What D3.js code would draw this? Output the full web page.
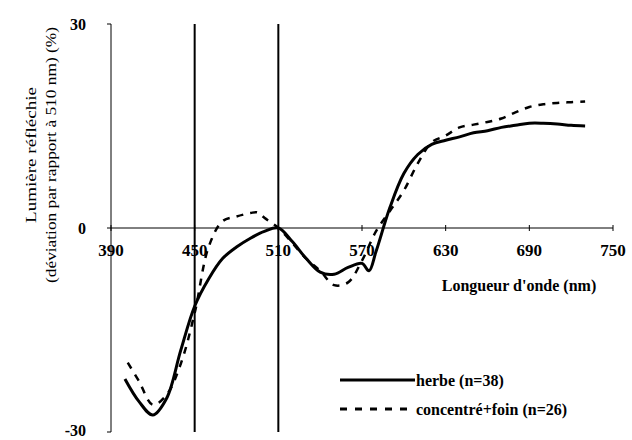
<!DOCTYPE html>
<html>
<head>
<meta charset="utf-8">
<script src="https://cdn.jsdelivr.net/npm/d3@7"></script>
<style>
  body { margin: 0; background: #fff; }
  text { font-family: "Liberation Serif", "DejaVu Serif", serif; fill: #000; }
</style>
</head>
<body>
<div id="viz"></div>
<script>
// wavelengths (nm) and deviation relative to 510 nm (%)
const herbeNm = [400, 410, 420, 430, 440, 450, 460, 470, 480, 490, 500, 510, 520, 530, 540, 550, 560, 570, 575, 580, 590, 600, 610, 620, 630, 640, 650, 660, 670, 680, 690, 700, 710, 720, 730];
const herbeVal = [-22.2, -25.5, -27.5, -25, -18, -11.5, -7.5, -4.5, -2.8, -1.5, -0.5, 0, -2, -4.5, -6.5, -6.8, -5.8, -5.2, -6.3, -3.5, 3, 8, 10.8, 12.3, 12.9, 13.4, 14, 14.3, 14.8, 15.1, 15.4, 15.4, 15.3, 15.1, 15.0];

const concNm = [402, 410, 420, 430, 440, 450, 460, 470, 480, 490, 495, 500, 510, 520, 530, 540, 550, 560, 570, 580, 590, 600, 610, 620, 630, 640, 650, 660, 670, 680, 690, 700, 710, 720, 730];
const concVal = [-19.8, -22.5, -26, -24.5, -20, -12.5, -2.8, 1.0, 1.7, 2.2, 2.3, 1.5, 0, -2.2, -4.5, -6.3, -8.4, -8.0, -4.8, -0.5, 2.5, 5.5, 9.5, 12.6, 13.6, 14.8, 15.2, 15.6, 16.1, 17, 17.8, 18.2, 18.4, 18.5, 18.6];

const xTicks = [390, 450, 510, 570, 630, 690, 750];
const yTicks = [-30, 0, 30];
const refLines = [450, 510];
const seriesNames = ["herbe (n=38)", "concentré+foin (n=26)"];

const width = 632, height = 440;
const svg = d3.select("#viz").append("svg")
    .attr("width", width)
    .attr("height", height);

const x = d3.scaleLinear().domain([390, 750]).range([111, 613]);
const y = d3.scaleLinear().domain([-30, 30]).range([432, 24]);

// y axis
svg.append("line")
    .attr("x1", x(390)).attr("x2", x(390))
    .attr("y1", y(30)).attr("y2", y(-30))
    .attr("stroke", "#000").attr("stroke-width", 1);
svg.selectAll(".ytick").data(yTicks).enter().append("line")
    .attr("x1", x(390) - 4).attr("x2", x(390))
    .attr("y1", d => y(d)).attr("y2", d => y(d))
    .attr("stroke", "#000");
svg.selectAll(".ylab").data(yTicks).enter().append("text")
    .attr("x", 86).attr("y", d => Math.min(y(d) + 6, 436))
    .attr("text-anchor", "end")
    .style("font-size", "16px").style("font-weight", "bold")
    .text(d => d);

// x axis on zero line
svg.append("line")
    .attr("x1", x(390)).attr("x2", x(750))
    .attr("y1", y(0)).attr("y2", y(0))
    .attr("stroke", "#000").attr("stroke-width", 1);
svg.selectAll(".xtick").data(xTicks).enter().append("line")
    .attr("x1", d => x(d)).attr("x2", d => x(d))
    .attr("y1", y(0) - 3).attr("y2", y(0) + 3)
    .attr("stroke", "#000");
svg.selectAll(".xlab").data(xTicks).enter().append("text")
    .attr("x", d => x(d)).attr("y", y(0) + 28)
    .attr("text-anchor", "middle")
    .style("font-size", "17px").style("font-weight", "bold")
    .text(d => d);

// vertical reference lines
svg.selectAll(".ref").data(refLines).enter().append("line")
    .attr("x1", d => x(d)).attr("x2", d => x(d))
    .attr("y1", y(30)).attr("y2", y(-30))
    .attr("stroke", "#000").attr("stroke-width", 2);

// axis titles
svg.append("text")
    .attr("x", 519).attr("y", 291)
    .attr("text-anchor", "middle")
    .style("font-size", "16px").style("font-weight", "bold")
    .text("Longueur d'onde (nm)");
const yt = svg.append("text")
    .attr("transform", "translate(0,155) rotate(-90)")
    .attr("text-anchor", "middle")
    .style("font-size", "15px");
yt.append("tspan").attr("x", 0).attr("y", 36)
    .attr("textLength", 136).attr("lengthAdjust", "spacingAndGlyphs")
    .text("Lumière réfléchie");
yt.append("tspan").attr("x", 0).attr("y", 56)
    .attr("textLength", 256).attr("lengthAdjust", "spacingAndGlyphs")
    .text("(déviation par rapport à 510 nm) (%)");

// curves
const line = d3.line()
    .x(d => x(d[0]))
    .y(d => y(d[1]))
    .curve(d3.curveCatmullRom);

svg.append("path")
    .datum(d3.zip(herbeNm, herbeVal))
    .attr("d", line)
    .attr("fill", "none")
    .attr("stroke", "#000")
    .attr("stroke-width", 3);

svg.append("path")
    .datum(d3.zip(concNm, concVal))
    .attr("d", line)
    .attr("fill", "none")
    .attr("stroke", "#000")
    .attr("stroke-width", 2.5)
    .attr("stroke-dasharray", "7,7");

// legend
const legend = svg.append("g");
legend.append("line")
    .attr("x1", 340).attr("x2", 415).attr("y1", 380).attr("y2", 380)
    .attr("stroke", "#000").attr("stroke-width", 3);
legend.append("line")
    .attr("x1", 340).attr("x2", 415).attr("y1", 409).attr("y2", 409)
    .attr("stroke", "#000").attr("stroke-width", 3)
    .attr("stroke-dasharray", "7,8");
legend.selectAll("text").data(seriesNames).enter().append("text")
    .attr("x", 416).attr("y", (d, i) => 386 + i * 29)
    .style("font-size", "16px").style("font-weight", "bold")
    .text(d => d);
</script>
</body>
</html>
